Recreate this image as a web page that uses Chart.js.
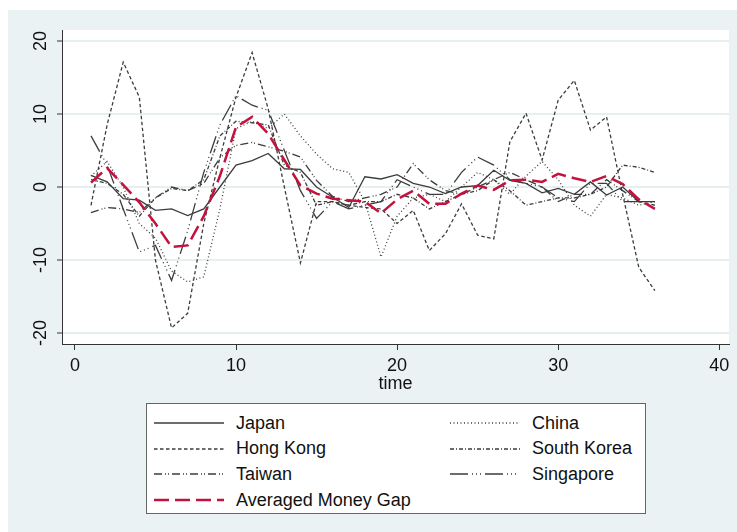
<!DOCTYPE html>
<html>
<head>
<meta charset="utf-8">
<script src="https://cdn.jsdelivr.net/npm/chart.js@4/dist/chart.umd.min.js"></script>
<style>
  body { margin: 0; background: #fff; font-family: Arial, "Liberation Sans", sans-serif; }
  #wrap { position: absolute; left: 8px; top: 10px; width: 729px; height: 522px; background: #EAF2F3; }
  #chart { position: absolute; left: 0; top: 0; }
  #legend { position: absolute; left: 138px; top: 393px; width: 498px; height: 109px; background: #fff; border: 1px solid #666; }
  .item { position: absolute; height: 22px; display: flex; align-items: center; font-size: 18px; color: #111; white-space: nowrap; }
  .item span { margin-left: 12px; }
</style>
</head>
<body>
<div id="wrap">
  <canvas id="chart" width="729" height="522"></canvas>
  <div id="legend"></div>
</div>
<script>
// time index
const time = [1,2,3,4,5,6,7,8,9,10,11,12,13,14,15,16,17,18,19,20,21,22,23,24,25,26,27,28,29,30,31,32,33,34,35,36];

// money gap by economy
const japan      = [1.6,0.7,-1.6,-1.8,-3.2,-3.0,-3.9,-3.0,0.0,3.0,3.6,4.6,2.5,2.4,0.0,-1.4,-2.8,1.4,1.1,1.7,0.5,0.0,-0.9,0.0,0.2,2.3,0.9,0.5,-0.8,-0.2,-1.0,0.7,-1.1,0.0,-2.0,-2.0];
const china      = [1.5,3.5,0.0,-5.0,-7.0,-11.5,-13.0,-12.3,-3.0,8.0,9.0,8.0,10.0,7.0,4.5,2.5,2.0,-2.0,-9.6,-4.0,-1.5,-1.0,-2.0,0.0,2.0,1.0,-1.0,1.5,3.5,1.0,-2.5,-4.0,-1.0,-1.5,-2.5,-2.0];
const hongKong   = [-2.5,8.5,17.1,12.3,-10.0,-19.3,-17.3,-5.0,4.0,12.3,18.4,10.7,0.0,-10.4,-2.0,-2.0,-2.5,-2.8,-3.0,-5.0,-3.2,-8.7,-6.4,-2.3,-6.6,-7.1,6.2,10.1,3.7,11.9,14.6,7.8,9.6,-1.0,-11.0,-14.2];
const southKorea = [1.0,0.5,-1.0,-4.0,-1.5,-0.2,-0.5,1.0,7.0,9.0,8.8,8.5,3.0,2.0,-2.5,-2.0,-2.5,-2.0,-2.0,-1.0,-1.5,-3.0,-2.0,-1.0,-0.5,1.0,-0.5,-2.5,-2.0,-1.5,-1.5,-1.0,0.0,3.0,2.7,2.0];
const taiwan     = [-3.5,-2.8,-3.0,-3.5,-1.5,0.0,-0.5,0.5,4.0,5.7,6.1,5.5,4.9,4.1,0.9,-1.3,-2.0,-1.5,-1.0,0.0,3.2,1.0,-0.5,-1.0,0.0,1.0,2.0,1.0,0.0,-2.0,-1.0,-1.0,1.0,-0.5,-2.0,-2.5];
const singapore  = [7.0,3.0,-3.0,-8.9,-8.0,-12.8,-6.0,2.0,8.5,12.5,11.2,10.5,5.0,-0.5,-4.3,-2.0,-3.0,-2.5,-2.0,1.0,0.0,-1.0,-1.0,2.0,4.1,3.0,1.0,0.5,0.0,-1.5,-2.0,0.5,0.5,-2.0,-2.0,-2.0];
const averaged   = [0.6,2.6,0.3,-2.1,-5.0,-8.2,-8.0,-4.0,1.5,8.2,9.6,7.3,3.7,0.2,-0.9,-1.6,-1.8,-2.0,-3.6,-1.7,-0.5,-2.3,-2.3,-0.9,0.2,-0.4,0.9,1.0,0.7,1.8,1.2,0.7,1.5,0.4,-1.7,-3.0];

const xTicks = [0, 10, 20, 30, 40];
const yTicks = [-20, -10, 0, 10, 20];

const grey = '#3c3c3c';
const red = '#C3123D';
const font = 'Arial, "Liberation Sans", sans-serif';

function series(label, values, dash, color, width, order) {
  return {
    label: label,
    data: time.map((t, i) => ({ x: t, y: values[i] })),
    borderColor: color,
    borderWidth: width,
    borderDash: dash,
    pointRadius: 0,
    tension: 0,
    fill: false,
    order: order
  };
}

const datasets = [
  series('Japan', japan, [], grey, 1.3, 1),
  series('China', china, [1, 2.5], grey, 1.3, 1),
  series('Hong Kong', hongKong, [3.5, 2.5], grey, 1.3, 1),
  series('South Korea', southKorea, [4, 2, 1, 2], grey, 1.3, 1),
  series('Taiwan', taiwan, [8, 3, 1, 2, 1, 3], grey, 1.3, 1),
  series('Singapore', singapore, [18, 4, 1, 3, 1, 3, 1, 4], grey, 1.3, 1),
  series('Averaged Money Gap', averaged, [15, 6], red, 2.5, 0)
];

// white plot region
const plotBg = {
  id: 'plotBg',
  beforeDraw(chart) {
    const a = chart.chartArea;
    const ctx = chart.ctx;
    ctx.save();
    ctx.fillStyle = '#fff';
    ctx.fillRect(a.left, a.top, a.right - a.left, a.bottom - a.top);
    ctx.restore();
  }
};

// rotated y tick labels
const yLabels = {
  id: 'yLabels',
  afterDraw(chart) {
    const s = chart.scales.y;
    const ctx = chart.ctx;
    ctx.save();
    ctx.fillStyle = '#111';
    ctx.font = '18px ' + font;
    ctx.textAlign = 'center';
    ctx.textBaseline = 'middle';
    s.ticks.forEach(t => {
      const y = s.getPixelForValue(t.value);
      ctx.save();
      ctx.translate(33, y);
      ctx.rotate(-Math.PI / 2);
      ctx.fillText(String(t.value), 0, 0);
      ctx.restore();
    });
    ctx.restore();
  }
};

const chart = new Chart(document.getElementById('chart').getContext('2d'), {
  type: 'line',
  data: { datasets: datasets },
  options: {
    responsive: false,
    animation: false,
    events: [],
    layout: { padding: { left: 0, top: 20, right: 8, bottom: 137 } },
    plugins: { legend: { display: false }, tooltip: { enabled: false } },
    scales: {
      x: {
        type: 'linear',
        min: -0.8,
        max: 40.6,
        afterBuildTicks: s => { s.ticks = xTicks.map(v => ({ value: v })); },
        afterFit: s => { s.height = 51; },
        grid: { drawOnChartArea: false, tickLength: 6, tickColor: '#333', tickWidth: 1 },
        border: { display: true, color: '#333', width: 1 },
        ticks: { color: '#111', font: { size: 18, family: font }, padding: 5, maxRotation: 0 },
        title: { display: true, text: 'time', color: '#111', font: { size: 18, family: font }, padding: { top: 0, bottom: 0 } }
      },
      y: {
        type: 'linear',
        min: -21.5,
        max: 21.5,
        afterBuildTicks: s => { s.ticks = yTicks.map(v => ({ value: v })); },
        afterFit: s => { s.width = 54; },
        grid: { color: '#E6EFF1', lineWidth: 2, tickLength: 5, tickColor: '#333', tickWidth: 1 },
        border: { display: true, color: '#333', width: 1 },
        ticks: { display: false }
      }
    }
  },
  plugins: [plotBg, yLabels]
});

// legend in two columns
const legend = document.getElementById('legend');
const colX = [7, 303];
datasets.forEach((d, i) => {
  const col = i % 2, row = Math.floor(i / 2);
  const el = document.createElement('div');
  el.className = 'item';
  el.style.left = colX[col] + 'px';
  el.style.top = (19 + row * 25.7 - 11) + 'px';
  const dash = d.borderDash.length ? d.borderDash.join(' ') : 'none';
  el.innerHTML = '<svg width="70" height="6"><line x1="0" y1="3" x2="70" y2="3" stroke="' + d.borderColor +
    '" stroke-width="' + d.borderWidth + '" stroke-dasharray="' + dash + '"/></svg><span>' + d.label + '</span>';
  legend.appendChild(el);
});
</script>
</body>
</html>
